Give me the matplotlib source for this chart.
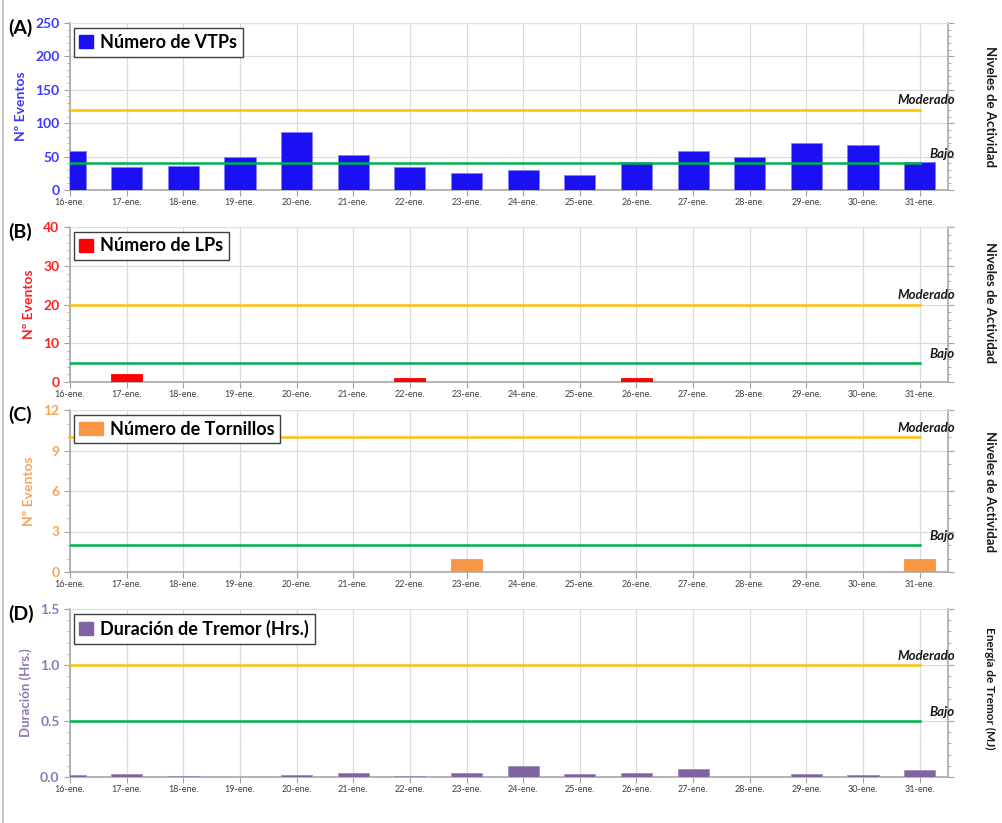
import matplotlib
matplotlib.use("Agg")
import matplotlib.pyplot as plt
from matplotlib.ticker import MultipleLocator
from matplotlib.lines import Line2D

plt.rcParams['font.family'] = ['Lato', 'DejaVu Sans']

dates = ["16-ene.", "17-ene.", "18-ene.", "19-ene.", "20-ene.", "21-ene.", "22-ene.",
         "23-ene.", "24-ene.", "25-ene.", "26-ene.", "27-ene.", "28-ene.", "29-ene.",
         "30-ene.", "31-ene."]
vtp = [58, 35, 36, 50, 87, 52, 35, 25, 30, 23, 42, 58, 50, 70, 68, 42]
lp = [0, 2, 0, 0, 0, 0, 1, 0, 0, 0, 1, 0, 0, 0, 0, 0]
tornillos = [0, 0, 0, 0, 0, 0, 0, 1, 0, 0, 0, 0, 0, 0, 0, 1]
tremor = [0.02, 0.025, 0.01, 0, 0.02, 0.04, 0.005, 0.04, 0.10, 0.025, 0.035, 0.07, 0, 0.03, 0.02, 0.06]

panels = [
    dict(letter="(A)", data=vtp, label="Número de VTPs", color="#1a10f2", edge="#7f7fff",
         txtcolor="#3a3aff", ylabel="Nº Eventos", ymax=250, major=50, minor=10,
         moderado=120, bajo=40, right="Niveles de Actividad", fmt="{:.0f}"),
    dict(letter="(B)", data=lp, label="Número de LPs", color="#ff0000", edge="#ff0000",
         txtcolor="#ff2020", ylabel="Nº Eventos", ymax=40, major=10, minor=2,
         moderado=20, bajo=5, right="Niveles de Actividad", fmt="{:.0f}"),
    dict(letter="(C)", data=tornillos, label="Número de Tornillos", color="#f79646", edge="#f79646",
         txtcolor="#f7a35c", ylabel="Nº Eventos", ymax=12, major=3, minor=1,
         moderado=10, bajo=2, right="Niveles de Actividad", fmt="{:.0f}"),
    dict(letter="(D)", data=tremor, label="Duración de Tremor (Hrs.)", color="#8064a2", edge="#a08cc0",
         txtcolor="#8f7ab0", ylabel="Duración (Hrs.)", ymax=1.5, major=0.5, minor=0.1,
         moderado=1.0, bajo=0.5, right="Energía de Tremor (MJ)", fmt="{:.1f}"),
]

W, H = 1002, 823
fig = plt.figure(figsize=(W / 100, H / 100), dpi=100)
# (top, bottom) in pixels
boxes = [(23, 190), (227, 382), (410, 572), (609, 777)]
left_px, right_px = 70, 948
right_centers = [107, 303, 492, 688]

fig.add_artist(Line2D([0.003, 0.003], [0, 1], color="#c8c8c8", lw=1.5))

x = list(range(len(dates)))
for i, (p, (top, bot)) in enumerate(zip(panels, boxes)):
    ax = fig.add_axes([left_px / W, 1 - bot / H, (right_px - left_px) / W, (bot - top) / H])
    ax.set_xlim(0, 15.5)
    ax.set_ylim(0, p["ymax"])
    ax.bar(x, p["data"], width=0.55, color=p["color"], edgecolor=p["edge"], linewidth=0.6, zorder=3)
    ax.plot([0, 15], [p["moderado"]] * 2, color="#ffc000", lw=1.8, zorder=4)
    ax.plot([0, 15], [p["bajo"]] * 2, color="#00b050", lw=1.8, zorder=4)
    ax.text(15.62, p["moderado"] + p["ymax"] * 0.02, "Moderado", ha="right", va="bottom",
            fontsize=9.5, fontweight="bold", fontstyle="italic", color="#1a1a1a", clip_on=False, zorder=5)
    ax.text(15.62, p["bajo"] + p["ymax"] * 0.02, "Bajo", ha="right", va="bottom",
            fontsize=9.5, fontweight="bold", fontstyle="italic", color="#1a1a1a", clip_on=False, zorder=5)

    ax.set_xticks(x)
    ax.set_xticklabels(dates, fontsize=6.5, color="#404040")
    ax.yaxis.set_minor_locator(MultipleLocator(p["minor"]))
    nmaj = int(round(p["ymax"] / p["major"])) + 1
    ax.set_yticks([k * p["major"] for k in range(nmaj)])
    ax.set_yticklabels([p["fmt"].format(k * p["major"]) for k in range(nmaj)],
                       fontsize=10, fontweight="bold", color=p["txtcolor"])
    ax.tick_params(axis="y", which="both", direction="out", colors="#a0a0a0", labelcolor=p["txtcolor"],
                   right=True, labelright=False, length=4)
    ax.tick_params(axis="y", which="minor", length=2)
    ax.tick_params(axis="x", direction="out", length=4, colors="#a0a0a0", labelcolor="#404040", pad=2)
    ax.grid(True, which="major", color="#dcdcdc", lw=0.9, zorder=0)
    ax.set_axisbelow(True)
    for s in ["left", "bottom", "right"]:
        ax.spines[s].set_color("#a8a8a8")
        ax.spines[s].set_linewidth(1.2)
    ax.spines["top"].set_color("#e0e0e0")

    ax.set_ylabel(p["ylabel"], fontsize=10 if i < 3 else 9.5, fontweight="bold", color=p["txtcolor"], labelpad=6)

    leg = ax.legend([plt.Rectangle((0, 0), 1, 1, color=p["color"])], [p["label"]],
                    loc="upper left", bbox_to_anchor=(0.004, 0.97), frameon=True, fancybox=False,
                    prop=dict(size=13, weight="bold"), handlelength=0.75 if i != 2 else 1.3,
                    handleheight=0.75, handletextpad=0.4, borderpad=0.32, borderaxespad=0.0)
    leg.get_frame().set_edgecolor("#404040")
    leg.get_frame().set_linewidth(1.0)
    leg.get_frame().set_alpha(1)
    leg.set_zorder(10)

    fig.text(8 / W, 1 - (top + 5) / H, p["letter"], fontsize=14, fontweight="bold", ha="left", va="center")
    fig.text(990 / W, 1 - right_centers[i] / H, p["right"], rotation=-90, ha="center", va="center",
             fontsize=9.5 if i < 3 else 8.5, fontweight="bold", color="#1a1a1a")

fig.savefig("out.png", dpi=100)
